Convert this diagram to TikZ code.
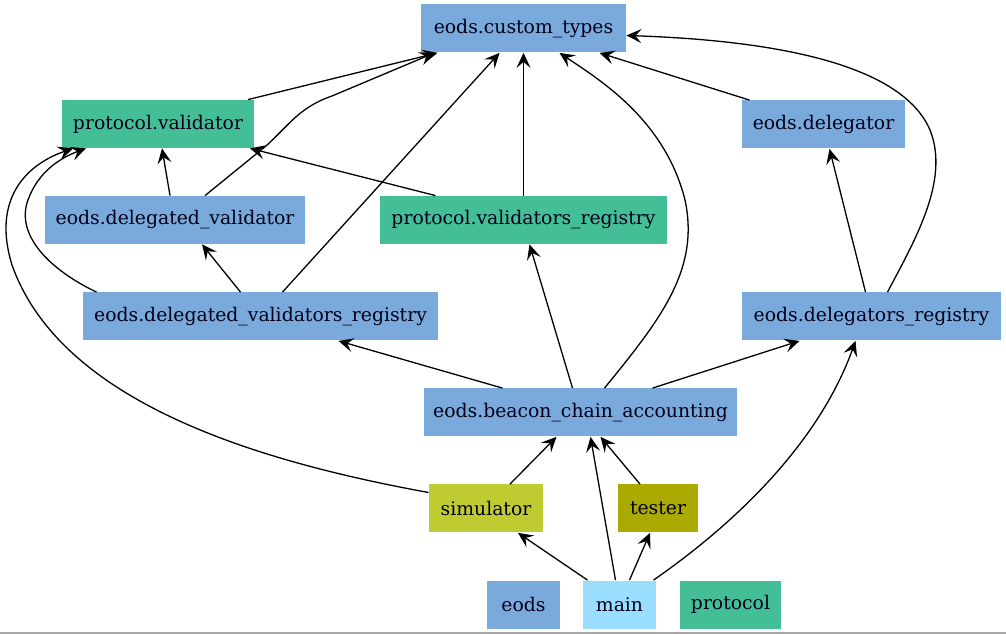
\documentclass[tikz,border=0pt]{standalone}
\usepackage{fontspec}
\setmainfont{DejaVu Serif}
\usetikzlibrary{arrows.meta}

\definecolor{eodsblue}{RGB}{122,169,219}
\definecolor{protogreen}{RGB}{68,190,150}
\definecolor{simgreen}{RGB}{190,204,50}
\definecolor{testolive}{RGB}{170,170,0}
\definecolor{mainblue}{RGB}{153,221,255}

\begin{document}
\begin{tikzpicture}[
    x = 0.5pt, y = -0.5pt,
    mod/.style = {
      rectangle,
      inner sep = 0pt,
      minimum height = 24pt,
      text = black!90!blue,
      font = \fontsize{9.4}{11}\selectfont,
    },
    dep/.style = {
      -{Stealth[length = 7.5pt, width = 7pt, inset = 3pt]},
      line width = 0.65pt,
    },
  ]
  \useasboundingbox (0,0) rectangle (1006,635);

  \node [mod, fill = eodsblue, minimum width = 102.5pt]   (ct)    at (523.5,28.5)  {eods.custom\_types};
  \node [mod, fill = protogreen, minimum width = 96pt]    (pval)  at (158,124)     {protocol.validator};
  \node [mod, fill = eodsblue, minimum width = 81.5pt]    (dlg)   at (823.5,124.5) {eods.delegator};
  \node [mod, fill = eodsblue, minimum width = 130pt]     (dval)  at (175,220)     {eods.delegated\_validator};
  \node [mod, fill = protogreen, minimum width = 143.5pt] (pvr)   at (523.5,220)   {protocol.validators\_registry};
  \node [mod, fill = eodsblue, minimum width = 177.5pt]   (dvr)   at (260.5,316.5) {eods.delegated\_validators\_registry};
  \node [mod, fill = eodsblue, minimum width = 129.5pt]   (dr)    at (871.5,316.5) {eods.delegators\_registry};
  \node [mod, fill = eodsblue, minimum width = 156.5pt]   (bca)   at (580.5,412.5) {eods.beacon\_chain\_accounting};
  \node [mod, fill = simgreen, minimum width = 57pt]      (sim)   at (486,508.5)   {simulator};
  \node [mod, fill = testolive, minimum width = 40pt]     (tst)   at (658,508.5)   {tester};
  \node [mod, fill = eodsblue, minimum width = 36.5pt]    (eods)  at (523.5,604.5) {eods};
  \node [mod, fill = mainblue, minimum width = 36.5pt]    (main)  at (619.5,604.5) {main};
  \node [mod, fill = protogreen, minimum width = 50.5pt]  (proto) at (730.5,604.5) {protocol};

  \draw [dep] ([xshift = 45pt]pval.north) -- ([xshift = -43pt]ct.south);
  \draw [dep] ([xshift = 15pt]dval.north) -- (266,146) .. controls (290,124) and (300,107) .. (332,96)
    -- ([xshift = -44.5pt]ct.south);
  \draw [dep] ([xshift = 11pt]dvr.north) -- ([xshift = -12pt]ct.south);
  \draw [dep] (pvr.north) -- (ct.south);
  \draw [dep] ([xshift = 12pt]bca.north) .. controls (660,320) and (700,270) .. (685,200)
    .. controls (665,120) and (600,80) .. ([xshift = 18pt]ct.south);
  \draw [dep] ([xshift = -37pt]dlg.north) -- ([xshift = 38pt]ct.south);
  \draw [dep] ([xshift = 8pt]dr.north) .. controls (915,240) and (950,180) .. (930,130)
    .. controls (900,60) and (760,40) .. ([yshift = -3.5pt]ct.east);

  \draw [dep] ([xshift = -2.5pt]dval.north) -- ([xshift = 2pt]pval.south);
  \draw [dep] ([xshift = -44pt]pvr.north) -- ([xshift = 46pt]pval.south);
  \draw [dep] ([xshift = -82pt]dvr.north) .. controls (50,270) and (15,235) .. (28,200)
    .. controls (38,172) and (60,158) .. ([xshift = -36pt]pval.south);
  \draw [dep] ([xshift = -10pt]dvr.north) -- ([xshift = 13.5pt]dval.south);

  \draw [dep] ([xshift = -39pt]bca.north) -- ([xshift = 39pt]dvr.south);
  \draw [dep] ([xshift = -4pt]bca.north) -- ([xshift = 3pt]pvr.south);
  \draw [dep] ([xshift = 36pt]bca.north) -- ([xshift = -36pt]dr.south);
  \draw [dep] ([xshift = -3pt]dr.north) -- ([xshift = 3pt]dlg.south);

  \draw [dep] ([xshift = 12pt]sim.north) -- ([xshift = -12pt]bca.south);
  \draw [dep] ([yshift = 8pt]sim.west) .. controls (250,460) and (60,400) .. (12,265)
    .. controls (-8,200) and (25,165) .. ([xshift = -42.5pt]pval.south);
  \draw [dep] ([xshift = -9pt]tst.north) -- ([xshift = 10pt]bca.south);

  \draw [dep] ([xshift = -16pt]main.north) -- ([xshift = 16pt]sim.south);
  \draw [dep] ([xshift = -2pt]main.north) -- ([xshift = 5pt]bca.south);
  \draw [dep] ([xshift = 5pt]main.north) -- ([xshift = -4pt]tst.south);
  \draw [dep] ([xshift = 17pt]main.north) .. controls (740,520) and (820,440) .. ([xshift = -8pt]dr.south);

  \draw [black!35, line width = 1pt] (0,633) -- (1006,633);
\end{tikzpicture}
\end{document}
